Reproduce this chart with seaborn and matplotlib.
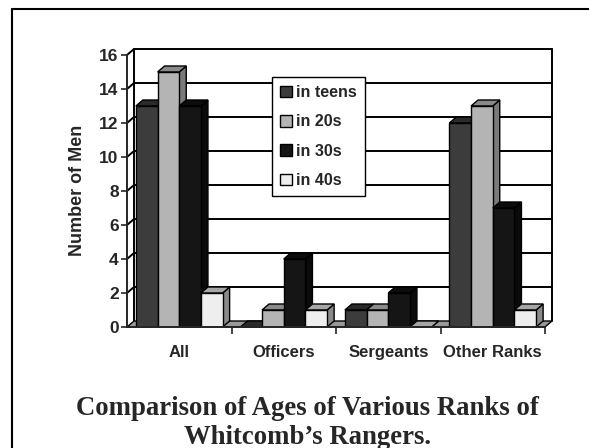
import numpy as np
import pandas as pd
import matplotlib
matplotlib.use("Agg")
import matplotlib.pyplot as plt
from matplotlib.patches import Polygon, Patch
import seaborn as sns


# =====================================
# DATA
# =====================================

ranks = ["All", "Officers", "Sergeants", "Other Ranks"]

age_groups = ["in teens", "in 20s", "in 30s", "in 40s"]

in_teens = [13, 0, 1, 12]
in_20s = [15, 1, 1, 13]
in_30s = [13, 4, 2, 7]
in_40s = [2, 1, 0, 1]

y_ticks = [0, 2, 4, 6, 8, 10, 12, 14, 16]

title_line1 = "Comparison of Ages of Various Ranks of"
title_line2 = "Whitcomb\u2019s Rangers."


# =====================================
# STYLE
# =====================================

front_colors = ["#3c3c3c", "#b4b4b4", "#151515", "#eeeeee"]
top_colors = ["#2a2a2a", "#8a8a8a", "#0c0c0c", "#a6a6a6"]
side_colors = ["#262626", "#7a7a7a", "#0a0a0a", "#8a8a8a"]
floor_color = "#999999"

depth_px = (7, 6)

sns.set_style("white")
plt.rcParams["font.family"] = ["Liberation Sans", "DejaVu Sans"]
plt.rcParams["font.weight"] = "bold"


# =====================================
# LONG TABLE
# =====================================

series = [in_teens, in_20s, in_30s, in_40s]

df = pd.DataFrame({
    "rank": [r for s in series for r in ranks],
    "age": [a for a, s in zip(age_groups, series) for _ in s],
    "count": [v for s in series for v in s],
})


# =====================================
# FIGURE
# =====================================

W, H = 589, 448
fig = plt.figure(figsize=(W / 100, H / 100), dpi=100)

ax_left, ax_right = 127, 545
ax_top, ax_bottom = 55, 327

ax = fig.add_axes([
    ax_left / W,
    1 - ax_bottom / H,
    (ax_right - ax_left) / W,
    (ax_bottom - ax_top) / H,
])

sns.barplot(
    data=df,
    x="rank",
    y="count",
    hue="age",
    order=ranks,
    hue_order=age_groups,
    palette=front_colors,
    saturation=1,
    width=0.83,
    edgecolor="black",
    linewidth=1.0,
    legend=False,
    ax=ax,
)

ax.set_xlim(-0.5, 3.5)
ax.set_ylim(0, 16)

# depth offset in data units
ddx = depth_px[0] * 4 / (ax_right - ax_left)
ddy = depth_px[1] * 16 / (ax_bottom - ax_top)


# =====================================
# 3D FACES OF THE BARS
# =====================================

bars = []
for k, container in enumerate(ax.containers):
    for bar in container:
        bars.append((bar.get_x(), k, bar))

bars.sort(key=lambda b: b[0])

for i, (x0, k, bar) in enumerate(bars):
    w = bar.get_width()
    h = bar.get_height()
    x1 = x0 + w
    z = 3 + 3 * i

    side = Polygon(
        [(x1, 0), (x1 + ddx, ddy), (x1 + ddx, h + ddy), (x1, h)],
        closed=True, facecolor=side_colors[k], edgecolor="black",
        linewidth=1.0, zorder=z, clip_on=False
    )
    top = Polygon(
        [(x0, h), (x1, h), (x1 + ddx, h + ddy), (x0 + ddx, h + ddy)],
        closed=True, facecolor=top_colors[k], edgecolor="black",
        linewidth=1.0, zorder=z + 1, clip_on=False
    )
    ax.add_patch(side)
    ax.add_patch(top)
    bar.set_zorder(z + 2)


# =====================================
# WALLS, FLOOR, GRID
# =====================================

x_lo, x_hi = -0.5, 3.5

floor = Polygon(
    [(x_lo, 0), (x_hi, 0), (x_hi + ddx, ddy), (x_lo + ddx, ddy)],
    closed=True, facecolor=floor_color, edgecolor="black",
    linewidth=1.0, zorder=1, clip_on=False
)
ax.add_patch(floor)

for yv in y_ticks[1:]:
    ax.plot(
        [x_lo, x_lo + ddx, x_hi + ddx],
        [yv, yv + ddy, yv + ddy],
        color="black", linewidth=1.4, zorder=0.5, clip_on=False
    )

ax.plot([x_lo + ddx, x_lo + ddx], [ddy, 16 + ddy],
        color="black", linewidth=1.4, zorder=0.5, clip_on=False)
ax.plot([x_hi + ddx, x_hi + ddx], [ddy, 16 + ddy],
        color="black", linewidth=1.4, zorder=0.5, clip_on=False)

for s in ["top", "right"]:
    ax.spines[s].set_visible(False)
for s in ["left", "bottom"]:
    ax.spines[s].set_linewidth(1.4)
    ax.spines[s].set_zorder(100)

ax.set_facecolor("none")


# =====================================
# TICKS AND LABELS
# =====================================

ax.set_yticks(y_ticks)
ax.set_yticklabels([str(v) for v in y_ticks], fontsize=12.5, fontweight="bold")
ax.tick_params(axis="y", length=4, width=1.2, pad=2, left=True)

ax.set_xticks(range(len(ranks)))
ax.set_xticklabels(ranks, fontsize=12, fontweight="bold")
ax.set_xticks([0.5, 1.5, 2.5, 3.5], minor=True)
ax.tick_params(axis="x", which="major", length=0, pad=13)
ax.tick_params(axis="x", which="minor", length=5, width=1.2, bottom=True)

ax.set_xlabel("")
ax.set_ylabel("")

fig.text(
    78 / W, 1 - 190 / H, "Number of Men",
    rotation=90, ha="center", va="center",
    fontsize=13, fontweight="bold"
)


# =====================================
# LEGEND
# =====================================

handles = [
    Patch(facecolor=c, edgecolor="black", linewidth=1.0)
    for c in front_colors
]

leg = ax.legend(
    handles,
    age_groups,
    loc="upper left",
    bbox_to_anchor=((272 - ax_left) / (ax_right - ax_left),
                    (ax_bottom - 77) / (ax_bottom - ax_top)),
    frameon=True,
    fancybox=False,
    edgecolor="black",
    framealpha=1,
    handlelength=0.75,
    handleheight=0.75,
    handletextpad=0.25,
    labelspacing=0.9,
    borderpad=0.5,
    borderaxespad=0,
    prop={"weight": "bold", "size": 11.5},
)
leg.get_frame().set_linewidth(1.0)
leg.set_zorder(200)


# =====================================
# TITLE AND BORDER
# =====================================

fig.text(307 / W, 1 - 408 / H, title_line1, ha="center", va="center",
         fontsize=19.3, fontweight="bold", family="Liberation Serif")
fig.text(307 / W, 1 - 437 / H, title_line2, ha="center", va="center",
         fontsize=19.3, fontweight="bold", family="Liberation Serif")

fig.add_artist(plt.Line2D([12 / W, 12 / W], [0, 1 - 9 / H],
                          transform=fig.transFigure, color="black",
                          linewidth=1.5))
fig.add_artist(plt.Line2D([12 / W, 1], [1 - 9 / H, 1 - 9 / H],
                          transform=fig.transFigure, color="black",
                          linewidth=1.5))

fig.savefig("out.png", dpi=100)
plt.close(fig)
